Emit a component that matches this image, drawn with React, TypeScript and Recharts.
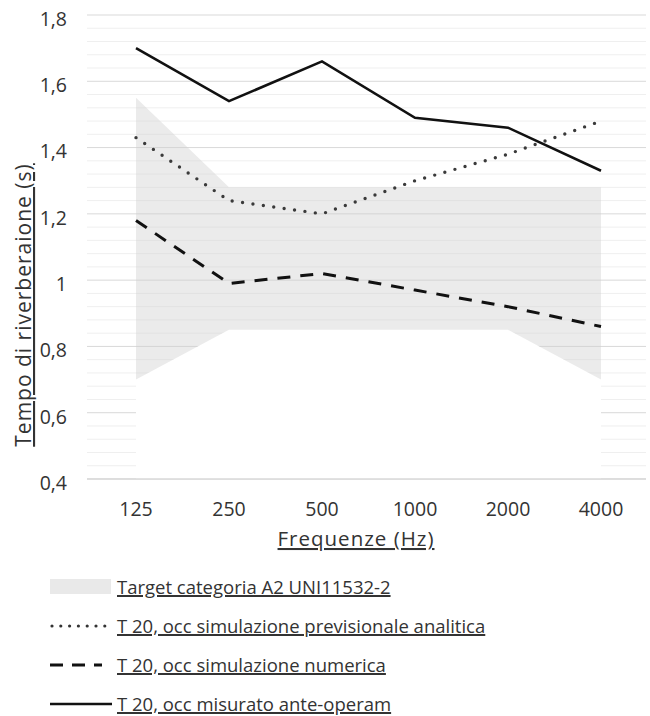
import React from "react";
import {
  ComposedChart,
  Area,
  Line,
  XAxis,
  YAxis,
  CartesianGrid,
  Legend,
  ReferenceLine,
  Label,
} from "recharts";

// frequenze (Hz)
const frequencies = ["125", "250", "500", "1000", "2000", "4000"];
// target UNI 11532-2, categoria A2 (limiti inferiore / superiore)
const targetLow = [0.7, 0.85, 0.85, 0.85, 0.85, 0.7];
const targetHigh = [1.55, 1.28, 1.28, 1.28, 1.28, 1.28];
// T20 occupato
const analitica = [1.43, 1.24, 1.2, 1.3, 1.38, 1.48];
const numerica = [1.18, 0.99, 1.02, 0.97, 0.92, 0.86];
const anteOperam = [1.7, 1.54, 1.66, 1.49, 1.46, 1.33];

const yTicks = [0.4, 0.6, 0.8, 1, 1.2, 1.4, 1.6, 1.8];
const yMinorTicks = [
  0.44, 0.48, 0.52, 0.56, 0.64, 0.68, 0.72, 0.76, 0.84, 0.88, 0.92, 0.96,
  1.04, 1.08, 1.12, 1.16, 1.24, 1.28, 1.32, 1.36, 1.44, 1.48, 1.52, 1.56,
  1.64, 1.68, 1.72, 1.76,
];

const legendItems = [
  { kind: "band", label: "Target categoria A2 UNI11532-2" },
  { kind: "dot", label: "T 20, occ simulazione previsionale analitica" },
  { kind: "dash", label: "T 20, occ simulazione numerica" },
  { kind: "solid", label: "T 20, occ misurato ante-operam" },
];

const data = frequencies.map((f, i) => ({
  freq: f,
  low: targetLow[i],
  range: [targetLow[i], targetHigh[i]],
  analitica: analitica[i],
  numerica: numerica[i],
  anteOperam: anteOperam[i],
}));

const FONT = "'Open Sans', sans-serif";
const TEXT = "#333";

const fmt = (v: number) => String(Math.round(v * 10) / 10).replace(".", ",");

function LegendIcon({ kind }: { kind: string }) {
  return (
    <svg width={62} height={20} style={{ display: "block" }}>
      {kind === "band" && <rect x={0} y={2} width={61} height={15} fill="#e9e9e9" />}
      {kind === "dot" && (
        <line x1={2} y1={10} x2={56} y2={10} stroke="#333" strokeWidth={3.2} strokeDasharray="0 8.8" strokeLinecap="round" />
      )}
      {kind === "dash" && (
        <line x1={0} y1={10} x2={52} y2={10} stroke="#111" strokeWidth={3} strokeDasharray="13 9" />
      )}
      {kind === "solid" && <line x1={0} y1={10} x2={62} y2={10} stroke="#111" strokeWidth={2.5} />}
    </svg>
  );
}

function LegendContent() {
  return (
    <div style={{ paddingLeft: 50, paddingTop: 2, fontFamily: FONT }}>
      {legendItems.map((it) => (
        <div key={it.label} style={{ display: "flex", alignItems: "center", height: 39 }}>
          <LegendIcon kind={it.kind} />
          <span
            style={{
              marginLeft: 5,
              fontSize: 18.5,
              lineHeight: "24px",
              color: TEXT,
              textDecoration: "underline",
              textDecorationThickness: 2,
            }}
          >
            {it.label}
          </span>
        </div>
      ))}
    </div>
  );
}

export default function App() {
  return (
    <div style={{ position: "absolute", left: 0, top: 0, background: "#fff" }}>
      <ComposedChart width={650} height={716} data={data} margin={{ top: 15, right: 4, bottom: 0, left: 0 }}>
        <CartesianGrid vertical={false} horizontalValues={yMinorTicks} stroke="#efefef" strokeWidth={1} />
        <CartesianGrid vertical={false} horizontalValues={yTicks} stroke="#d9d9d9" strokeWidth={1} />
        <YAxis
          domain={[0.4, 1.8]}
          ticks={yTicks}
          interval={0}
          width={87}
          axisLine={false}
          tickLine={false}
          tickSize={0}
          tickMargin={20}
          tickFormatter={fmt}
          tick={{ fill: TEXT, fontSize: 19.5, fontFamily: FONT, dy: 4 }}
        >
          <Label
            content={() => (
              <text
                x={31}
                y={305}
                transform="rotate(-90 31 305)"
                textAnchor="middle"
                fill={TEXT}
                fontSize={21}
                letterSpacing={1}
                fontFamily={FONT}
                style={{ textDecoration: "underline" }}
              >
                Tempo di riverberaione (s)
              </text>
            )}
          />
        </YAxis>
        <Area dataKey="low" stroke="none" fill="#ffffff" fillOpacity={1} isAnimationActive={false} legendType="none" />
        <Area dataKey="range" stroke="none" fill="#cfcfcf" fillOpacity={0.42} isAnimationActive={false} />
        <XAxis
          dataKey="freq"
          height={86}
          padding={{ left: 49, right: 45 }}
          axisLine={{ stroke: "#d9d9d9" }}
          tickLine={false}
          tickSize={0}
          tickMargin={23}
          tick={{ fill: TEXT, fontSize: 19.5, fontFamily: FONT }}
        >
          <Label
            content={() => (
              <text
                x={356}
                y={546}
                textAnchor="middle"
                fill={TEXT}
                fontSize={20.5}
                letterSpacing={1}
                fontFamily={FONT}
                style={{ textDecoration: "underline" }}
              >
                Frequenze (Hz)
              </text>
            )}
          />
        </XAxis>
        <ReferenceLine y={0.4} stroke="#d9d9d9" />
        <Line
          dataKey="analitica"
          stroke="#3a3a3a"
          strokeWidth={3.4}
          strokeDasharray="0 10.5"
          strokeLinecap="round"
          dot={false}
          isAnimationActive={false}
        />
        <Line dataKey="numerica" stroke="#111" strokeWidth={3} strokeDasharray="13 10" dot={false} isAnimationActive={false} />
        <Line dataKey="anteOperam" stroke="#111" strokeWidth={2.6} dot={false} isAnimationActive={false} />
        <Legend
          verticalAlign="bottom"
          align="left"
          height={151}
          width={650}
          wrapperStyle={{ left: 0 }}
          content={() => <LegendContent />}
        />
      </ComposedChart>
    </div>
  );
}
